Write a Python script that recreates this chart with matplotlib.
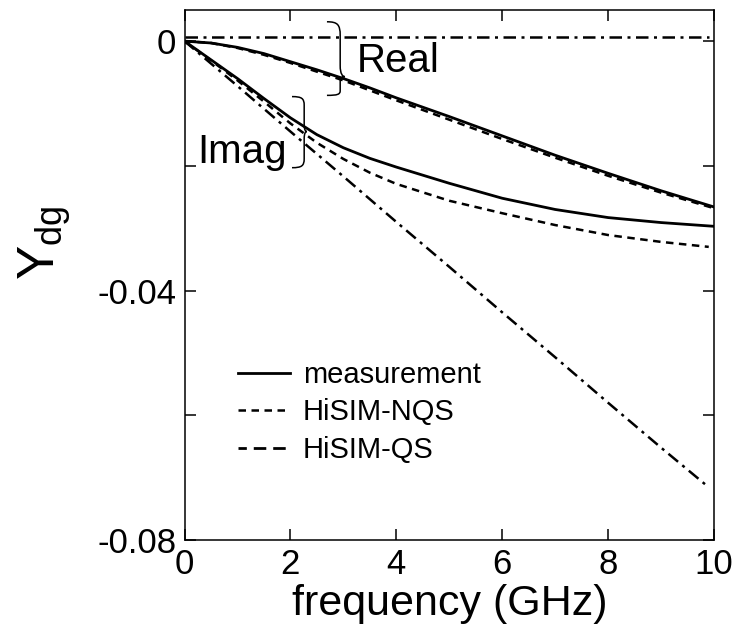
import matplotlib
matplotlib.use("Agg")
import matplotlib.pyplot as plt
from matplotlib.path import Path
from matplotlib.patches import PathPatch
from matplotlib.lines import Line2D

plt.rcParams['font.family'] = ['Liberation Sans', 'DejaVu Sans']
plt.rcParams['mathtext.fontset'] = 'custom'
plt.rcParams['mathtext.rm'] = 'Liberation Sans'
plt.rcParams['mathtext.it'] = 'Liberation Sans'

# frequency grid (GHz)
freq = [0, 0.5, 1, 1.5, 2, 2.5, 3, 3.5, 4, 5, 6, 7, 8, 9, 10]

# real part
real_meas = [0, -0.0003, -0.0010, -0.0020, -0.0033, -0.0046, -0.0060, -0.0075,
             -0.0091, -0.0121, -0.0152, -0.0183, -0.0212, -0.0240, -0.0266]
real_nqs = [0, -0.0003, -0.0011, -0.0022, -0.0035, -0.0049, -0.0063, -0.0079,
            -0.0095, -0.0126, -0.0157, -0.0187, -0.0216, -0.0243, -0.0268]
freq_qs_real = [0, 2, 4, 6, 8, 9.9]
real_qs = [0.0007, 0.0007, 0.0007, 0.0007, 0.0007, 0.0007]

# imaginary part
imag_meas = [0, -0.0030, -0.0060, -0.0092, -0.0123, -0.0150, -0.0171, -0.0188,
             -0.0202, -0.0228, -0.0252, -0.0270, -0.0283, -0.0291, -0.0297]
freq_nqs_imag = [0, 0.5, 1, 1.5, 2, 2.5, 3, 3.5, 4, 5, 6, 7, 8, 9, 9.9]
imag_nqs = [0, -0.0031, -0.0063, -0.0097, -0.0132, -0.0163, -0.0189, -0.0211,
            -0.0229, -0.0256, -0.0276, -0.0295, -0.0311, -0.0322, -0.0330]
freq_qs_imag = [0, 1, 2, 3, 4, 5, 6, 7, 8, 9, 9.85]
imag_qs = [0, -0.0072, -0.0145, -0.0217, -0.0290, -0.0362, -0.0435, -0.0507,
           -0.0580, -0.0652, -0.0712]

yticks = [-0.08, -0.06, -0.04, -0.02, 0]
ytick_labels = ['-0.08', '', '-0.04', '', '0']
xticks = [0, 2, 4, 6, 8, 10]
legend_labels = ['measurement', 'HiSIM-NQS', 'HiSIM-QS']


def brace(ax, x0, xm, xt, ytop, ytip, ybot, lw=1.1):
    """ Draw a right-facing curly brace '}' in data coordinates. """
    h1 = ytop - ytip
    h2 = ytip - ybot
    verts = [
        (x0, ytop),
        (x0 + 0.8*(xm - x0), ytop), (xm, ytop - 0.05*h1), (xm, ytop - 0.25*h1),
        (xm, ytip + 0.2*h1),
        (xm, ytip + 0.05*h1), (xm + 0.5*(xt - xm), ytip), (xt, ytip),
        (xm + 0.5*(xt - xm), ytip), (xm, ytip - 0.05*h2), (xm, ytip - 0.2*h2),
        (xm, ybot + 0.25*h2),
        (xm, ybot + 0.05*h2), (x0 + 0.8*(xm - x0), ybot), (x0, ybot),
    ]
    codes = [Path.MOVETO,
             Path.CURVE4, Path.CURVE4, Path.CURVE4,
             Path.LINETO,
             Path.CURVE4, Path.CURVE4, Path.CURVE4,
             Path.CURVE4, Path.CURVE4, Path.CURVE4,
             Path.LINETO,
             Path.CURVE4, Path.CURVE4, Path.CURVE4]
    ax.add_patch(PathPatch(Path(verts, codes), fill=False, lw=lw, color='black'))


fig = plt.figure(figsize=(7.41, 6.33), dpi=100)
ax = fig.add_axes([0.249, 0.147, 0.7146, 0.8373])

meas_style = dict(color='black', lw=2.0, ls='-')
nqs_style = dict(color='black', lw=1.8, ls=(0, (3, 2.2)))
qs_style = dict(color='black', lw=1.8, ls=(0, (5, 2.2, 1.2, 2.2)))

ax.plot(freq, real_meas, **meas_style)
ax.plot(freq, real_nqs, **nqs_style)
ax.plot(freq_qs_real, real_qs, **qs_style)
ax.plot(freq, imag_meas, **meas_style)
ax.plot(freq_nqs_imag, imag_nqs, **nqs_style)
ax.plot(freq_qs_imag, imag_qs, **qs_style)

ax.set_xlim(0, 10)
ax.set_ylim(-0.08, 0.005)
ax.set_xticks(xticks)
ax.set_xticklabels([str(t) for t in xticks])
ax.set_yticks(yticks)
ax.set_yticklabels(ytick_labels)
ax.tick_params(direction='in', length=8, width=1.1, top=True, right=True,
               labelsize=25)
ax.tick_params(axis='x', pad=6)
ax.tick_params(axis='y', pad=6)
for s in ax.spines.values():
    s.set_linewidth(1.1)

ax.set_xlabel('frequency (GHz)', fontsize=31, labelpad=2)
ax.set_ylabel(r'Y$_{\rm dg}$', fontsize=37)
ax.yaxis.set_label_coords(-0.21, 0.56)

ax.text(3.26, -0.005, 'Real', fontsize=29)
ax.text(0.24, -0.0195, 'Imag', fontsize=29)
brace(ax, 2.69, 2.94, 3.03, 0.0031, -0.0057, -0.0087)
brace(ax, 2.03, 2.26, 2.31, -0.0089, -0.0145, -0.0203)

handles = [Line2D([], [], **meas_style),
           Line2D([], [], **nqs_style),
           Line2D([], [], color='black', lw=2.0, ls=(1.5, (4.5, 2.5)))]
ax.legend(handles, legend_labels,
          loc='upper left', bbox_to_anchor=(0.101, 0.338), frameon=False,
          fontsize=21, handlelength=1.78, handletextpad=0.45,
          labelspacing=0.33, borderpad=0, borderaxespad=0)

fig.savefig('out.png', dpi=100)
